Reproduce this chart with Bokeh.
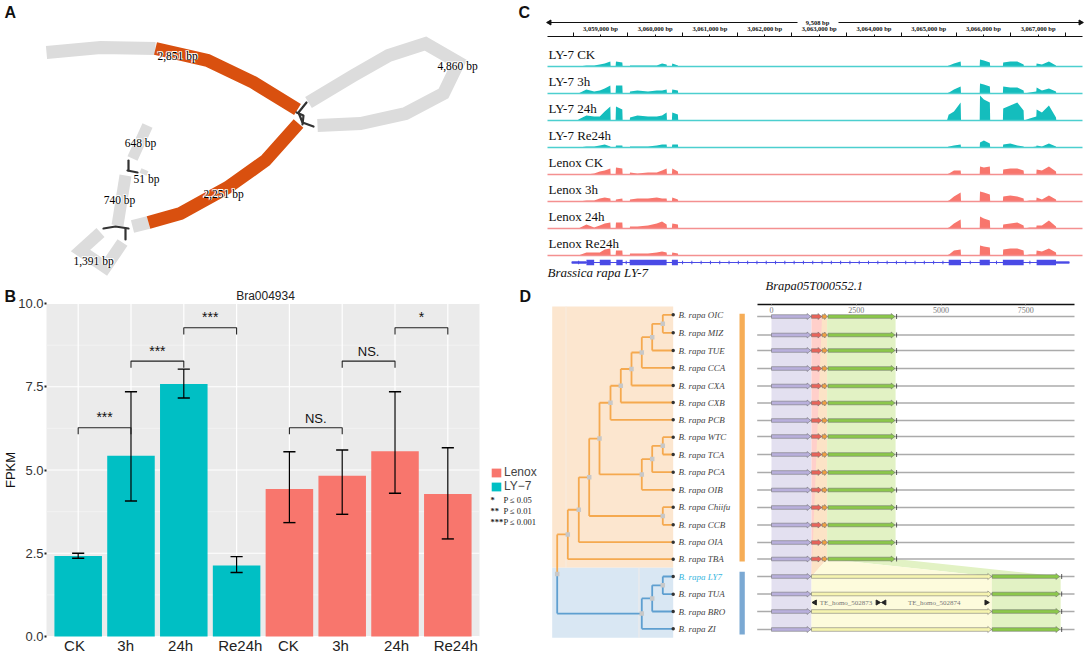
from bokeh.plotting import figure
from bokeh.layouts import row, column
from bokeh.embed import file_html
from bokeh.resources import INLINE
from bokeh.core.properties import value
from bokeh.models import (Range1d, LinearAxis, FixedTicker, Legend, LegendItem, Label)

SERIF = value("Liberation Serif")
SANS = "Liberation Sans"

# ---------- Panel A: assembly graph ----------
graph_gray = [
    ([46, 100, 155], [52, 47, 48], 13),
    ([308, 353, 388, 425, 458, 443, 405, 360, 317], [102, 75, 55, 43, 62, 93, 113, 123, 125], 13),
    ([148, 132], [222, 226], 13),
    ([125, 117], [175, 225], 12),
    ([147, 132], [125, 158], 11),
    ([140, 147], [170, 173], 5),
    ([100, 80, 105, 122], [232, 250, 267, 242], 12),
]
graph_orange = [
    ([155, 207, 253, 297], [48, 60, 82, 109], 13),
    ([298, 265, 227, 180, 148], [123, 160, 187, 213, 222], 13),
]
graph_links = [
    ([306, 298, 302, 313], [102, 112, 122, 126]),
    ([296, 303, 302], [112, 115, 124]),
    ([128, 128], [160, 170]),
    ([127, 137], [170, 172]),
    ([103, 115, 128], [228, 226, 228]),
    ([125, 125], [228, 239]),
]
graph_labels = ["2,851 bp", "4,860 bp", "2,251 bp", "648 bp", "51 bp", "740 bp", "1,391 bp"]
graph_label_x = [177, 457, 223, 140, 146, 119, 93]
graph_label_y = [55, 65, 193, 142, 178, 199, 260]

# ---------- Panel B: FPKM bars ----------
bar_pos = [1, 2, 3, 4, 5, 6, 7, 8]
bar_names = ["CK", "3h", "24h", "Re24h", "CK", "3h", "24h", "Re24h"]
ly7_fpkm = [2.42, 5.43, 7.58, 2.13]
ly7_low = [2.35, 4.07, 7.16, 1.92]
ly7_high = [2.50, 7.35, 8.03, 2.40]
lenox_fpkm = [4.43, 4.83, 5.56, 4.28]
lenox_low = [3.42, 3.67, 4.30, 2.93]
lenox_high = [5.55, 5.60, 7.35, 5.67]
name_ticks = [0.93, 1.90, 2.94, 4.07, 4.98, 5.97, 7.03, 8.15]
y_major = [0, 2.5, 5, 7.5, 10]
y_minor = [1.25, 3.75, 6.25, 8.75]
bracket_from = [1, 2, 3, 5, 6, 7]
bracket_to = [2, 3, 4, 6, 7, 8]
bracket_top = [6.27, 8.27, 9.27, 6.27, 8.27, 9.27]
bracket_text = ["***", "***", "***", "NS.", "NS.", "*"]
p_stars = ["*", "**", "***"]
p_notes = ["P ≤ 0.05", "P ≤ 0.01", "P ≤ 0.001"]

# ---------- Panel C: coverage tracks ----------
track_names = ["LY-7 CK", "LY-7 3h", "LY-7 24h", "LY-7 Re24h", "Lenox CK", "Lenox 3h", "Lenox 24h", "Lenox Re24h"]
track_base = [66, 93, 120, 147, 174, 201, 228, 255]
cov_pos = [3058595, 3058743, 3058884, 3058987, 3059077, 3059180, 3059186,
           3059276, 3059283, 3059399, 3059405,
           3059534, 3059540, 3059675, 3059868, 3060029, 3060125, 3060209, 3060215,
           3060305, 3060312, 3060415, 3060421,
           3065334, 3065366, 3065372, 3065462, 3065584, 3065591,
           3065932, 3065938, 3066009, 3066118, 3066124,
           3066356, 3066362, 3066491, 3066620, 3066735, 3066742,
           3066845, 3066967, 3066973, 3067070, 3067198, 3067327, 3067333]
cov_ly7_ck = [0,1,1,2,3,5,0, 0,5,4,0, 0,1,1,1,1,3,2,0, 0,3,1,0, 0,1,1,3,5,0, 0,7,6,4,0, 0,4,5,5,2,0, 0,0,3,2,5,1,0]
cov_ly7_3h = [0,4,2,3,5,8,0, 0,8,8,0, 0,2,3,2,3,3,4,0, 0,4,3,0, 0,1,1,4,7,0, 0,10,9,7,0, 0,7,6,6,3,0, 1,2,6,3,5,2,0]
cov_ly7_24 = [1,5,4,4,9,14,0, 0,14,11,0, 0,3,5,4,4,5,8,0, 0,8,6,0, 0,6,6,9,18,0, 0,25,21,18,0, 0,12,15,18,10,0, 2,4,11,8,15,3,0]
cov_ly7_re = [0,1,1,2,3,1,0, 0,2,2,0, 0,1,1,1,2,3,3,0, 0,3,3,0, 0,1,1,2,3,0, 0,5,7,4,0, 0,3,4,2,1,0, 0,1,2,1,4,1,0]
cov_len_ck = [0,0,1,3,4,6,0, 0,7,6,0, 0,2,1,2,2,4,6,0, 0,6,3,0, 0,1,1,4,4,0, 0,8,7,8,0, 0,5,6,6,4,0, 0,0,5,4,8,3,0]
cov_len_3h = [0,1,1,3,4,3,0, 0,2,3,0, 0,2,3,3,4,3,3,0, 0,4,2,0, 0,1,1,5,9,0, 0,10,9,7,0, 0,5,6,5,3,0, 1,1,4,2,6,2,0]
cov_len_24 = [0,4,1,3,5,6,0, 0,6,6,0, 0,2,2,3,5,7,4,0, 0,5,4,0, 0,1,1,5,9,0, 0,12,10,8,0, 0,4,5,6,3,0, 1,1,3,3,8,2,0]
cov_len_re = [0,3,3,3,6,7,0, 0,5,5,0, 0,2,2,2,3,4,3,0, 0,3,2,0, 0,1,1,5,6,0, 0,10,9,8,0, 0,6,7,7,5,0, 1,1,5,4,7,3,0]
tracks = [cov_ly7_ck, cov_ly7_3h, cov_ly7_24, cov_ly7_re, cov_len_ck, cov_len_3h, cov_len_24, cov_len_re]
ruler_ticks = [3059000 + 1000 * i for i in range(9)]
ruler_minor = [3058500 + 1000 * i for i in range(10)]
exon_start = [3058743, 3058987, 3059289, 3059534, 3060305, 3065366, 3065932, 3066356, 3066973]
exon_end = [3058884, 3059186, 3059405, 3060209, 3060415, 3065591, 3066118, 3066736, 3067327]
intron_marks = [3058600, 3059470, 3060500, 3060670, 3060840, 3061010, 3061180, 3061350, 3061520, 3061690, 3061860,
                3062030, 3062200, 3062370, 3062540, 3062710, 3062880, 3063050, 3063220, 3063390, 3063560, 3063730,
                3063900, 3064070, 3064240, 3064410, 3064580, 3064750, 3064920, 3065090, 3065260, 3065760, 3066240, 3066850]

# ---------- Panel D: phylogeny and gene structure ----------
taxa = ["OIC", "MIZ", "TUE", "CCA", "CXA", "CXB", "PCB", "WTC", "TCA", "PCA", "OIB", "Chiifu", "CCB", "OIA", "TBA",
        "LY7", "TUA", "BRO", "ZI"]
taxon_y = [314.3, 332.3, 350, 367.3, 385, 402, 419.3, 436.7, 454, 471.7, 489.3, 506.7, 524.3, 541.7, 558.7,
           576, 593.7, 611, 628.3]
gene_y = [316, 334.5, 350, 368, 385.5, 402.5, 420, 436, 454, 472, 489.5, 507, 524.5, 542, 558.5, 576, 593.5, 611, 629]
level_x = [556.7, 567.3, 578.3, 588.7, 599, 610, 620.3, 631, 641.3, 651.7, 662.3, 672.7]
clade_top = (1, [(2, [(3, [(4, [
    (5, [(6, [(7, [(8, [(9, [(10, ["OIC", "MIZ"]), "TUE"]), "CCA"]), "CXA"]), "CXB"]), "PCB"]),
    (8, [(9, [(10, ["WTC", "TCA"]), "PCA"]), "OIB"])]),
    (10, ["Chiifu", "CCB"])]), "OIA"]), "TBA"])
clade_low = (8, [(9, [(10, ["LY7", "TUA"]), "BRO"]), "ZI"])
scale_ticks = [0, 2500, 5000, 7500]
purple_gene = (0, 1160)
red_gene = (1180, 1480)
orange_gene = (1495, 1640)
green_gene = (1670, 3640)
yellow_gene = (1180, 6490)
green_gene2 = (6510, 8500)
te_names = ["TE_homo_502873", "TE_homo_502874"]
te_bp = [2200, 4800]
te_left = [1280, 3330]
te_right = [3130, 6340]

# =====================================================================
TEAL, SALMON = "#00BFC4", "#F8766D"
LEFT_W = 540
RIGHT_W = 1084 - LEFT_W


def base_fig(w, h, xr, yr, **kw):
    p = figure(width=w, height=h, x_range=xr, y_range=yr, output_backend="svg", toolbar_location=None,
               min_border=0, outline_line_color=None, **kw)
    p.axis.visible = False
    p.grid.visible = False
    return p


# ---- A ----
pa = base_fig(LEFT_W, 285, Range1d(0, LEFT_W), Range1d(285, 0))
for xs, ys, w in graph_gray:
    pa.line(xs, ys, line_color="#DCDCDC", line_width=w, line_join="miter", line_cap="butt")
for xs, ys, w in graph_orange:
    pa.line(xs, ys, line_color="#D9500F", line_width=w, line_join="miter", line_cap="butt")
for xs, ys in graph_links:
    pa.line(xs, ys, line_color="#333333", line_width=2.2, line_cap="round")
for dx, dy in [(-.8, -.8), (.8, -.8), (-.8, .8), (.8, .8)]:
    pa.text([x + dx for x in graph_label_x], [y + dy for y in graph_label_y], text=graph_labels, text_font=SERIF,
            text_font_size="11.5px", text_align="center", text_baseline="middle", text_color="white")
pa.text(graph_label_x, graph_label_y, text=graph_labels, text_font=SERIF, text_font_size="11.5px", text_align="center",
        text_baseline="middle", text_color="black")
for t, x, y in [("A", 4, 12), ("C", 518, 12)]:
    pa.add_layout(Label(x=x, y=y, text=t, text_font=SANS, text_font_size="16px", text_font_style="bold",
                        text_baseline="middle", text_color="#111111"))

# ---- B ----
XU = 433 / 8.2
YU = 333 / 10


def bx(px):
    return (px - 46) / XU + 0.4


def by(py):
    return (636 - py) / YU


pb = base_fig(LEFT_W, 369, Range1d(bx(0), bx(LEFT_W)), Range1d(by(654), by(285)))
pb.quad(left=[0.4], right=[8.6], bottom=[0], top=[10], fill_color="#EBEBEB", line_color=None)
pb.segment(y0=y_minor, y1=y_minor, x0=[0.4] * 4, x1=[8.6] * 4, line_color="#F4F4F4", line_width=0.8)
pb.segment(y0=y_major, y1=y_major, x0=[0.4] * 5, x1=[8.6] * 5, line_color="white", line_width=1.2)
pb.segment(x0=bar_pos, x1=bar_pos, y0=[0] * 8, y1=[10] * 8, line_color="white", line_width=1.2)
xax = LinearAxis(fixed_location=0, ticker=FixedTicker(ticks=name_ticks),
                 major_label_overrides={k: v for k, v in zip(name_ticks, bar_names)},
                 major_tick_line_color=None, minor_tick_line_color=None, axis_line_color=None,
                 major_tick_in=0, major_tick_out=0, minor_tick_in=0, minor_tick_out=0,
                 major_label_text_font=SANS, major_label_text_font_size="15px", major_label_text_color="#222222",
                 major_label_standoff=0)
pb.add_layout(xax, "below")
yax = LinearAxis(fixed_location=0.4, ticker=FixedTicker(ticks=y_major), axis_line_color=None,
                 major_tick_in=0, major_tick_out=2, major_tick_line_color="#222222", major_tick_line_width=2,
                 minor_tick_line_color=None, major_label_text_font=SANS, major_label_text_font_size="13px",
                 major_label_text_color="#333333", major_label_standoff=1,
                 axis_label="FPKM", axis_label_text_font=SANS, axis_label_text_font_size="13px",
                 axis_label_text_font_style="normal", axis_label_text_color="#111111", axis_label_standoff=-3)
yax.major_label_overrides = {0: "0.0", 2.5: "2.5", 5: "5.0", 7.5: "7.5", 10: "10.0"}
pb.add_layout(yax, "left")

r_ly = pb.vbar(x=bar_pos[:4], top=ly7_fpkm, width=0.9, fill_color=TEAL, line_color=None)
r_le = pb.vbar(x=bar_pos[4:], top=lenox_fpkm, width=0.9, fill_color=SALMON, line_color=None)
err_x = bar_pos
err_lo = ly7_low + lenox_low
err_hi = ly7_high + lenox_high
pb.segment(err_x, err_lo, err_x, err_hi, line_color="black", line_width=1.2)
pb.segment([x - .115 for x in err_x], err_lo, [x + .115 for x in err_x], err_lo, line_color="black", line_width=1.4)
pb.segment([x - .115 for x in err_x], err_hi, [x + .115 for x in err_x], err_hi, line_color="black", line_width=1.4)
for a, b, t, s in zip(bracket_from, bracket_to, bracket_top, bracket_text):
    pb.line([a, a, b, b], [t - .2, t, t, t - .2], line_color="#222222", line_width=1.1)
    ns = s.startswith("NS")
    pb.add_layout(Label(x=(a + b) / 2, y=t + (.07 if not ns else .05), text=s, text_align="center",
                        text_font=SANS, text_font_size="13px" if ns else "14px", text_color="#111111"))
pb.add_layout(Label(x=bx(265), y=by(295), text="Bra004934", text_align="center", text_baseline="middle", text_font=SANS,
                    text_font_size="12px", text_color="#222222"))
leg = Legend(items=[LegendItem(label="Lenox", renderers=[r_le]), LegendItem(label="LY\u22127", renderers=[r_ly])],
             location=(490, 161), margin=0, padding=0, spacing=0, border_line_color=None, background_fill_alpha=0,
             glyph_width=12, glyph_height=11, label_height=11, label_text_font=SANS, label_text_font_size="12px",
             label_standoff=2)
pb.add_layout(leg, "center")
for i, (st, s) in enumerate(zip(p_stars, p_notes)):
    pb.add_layout(Label(x=bx(490), y=by(499 + 11 * i), text=st, text_font="Liberation Serif", text_font_size="8.5px",
                        text_font_style="bold", text_baseline="middle", text_color="#222222"))
    pb.add_layout(Label(x=bx(503), y=by(499 + 11 * i), text=s, text_font="Liberation Serif", text_font_size="8.5px",
                        text_baseline="middle", text_color="#222222"))
for t, x in [("B", 4), ("D", 519)]:
    pb.add_layout(Label(x=bx(x), y=by(296), text=t, text_font=SANS, text_font_size="16px", text_font_style="bold",
                        text_baseline="middle", text_color="#111111"))

# ---- C ----
PX = 0.0547


def gx(px):
    return 3059000 + (px - 600) / PX


pc = base_fig(RIGHT_W, 292, Range1d(gx(LEFT_W), gx(1084)), Range1d(292, 0))
ruler = LinearAxis(fixed_location=36, bounds=(gx(547), gx(1082)),
                   ticker=FixedTicker(ticks=ruler_ticks, minor_ticks=ruler_minor),
                   major_label_overrides={t: f"{t:,} bp" for t in ruler_ticks},
                   axis_line_color="#111111", axis_line_width=1.2, major_tick_line_color="#111111",
                   minor_tick_line_color="#111111", major_tick_in=0, major_tick_out=2, minor_tick_in=0,
                   minor_tick_out=4, major_label_standoff=1, major_label_text_font="Liberation Serif",
                   major_label_text_font_size="6.5px", major_label_text_font_style="bold",
                   major_label_text_color="#111111")
pc.add_layout(ruler, "above")
pc.segment([gx(547), gx(838)], [22, 22], [gx(797), gx(1082)], [22, 22], line_color="#111111", line_width=1.2)
pc.scatter([gx(549)], [22], marker="triangle", angle=1.5708, size=5, color="#111111")
pc.scatter([gx(1080)], [22], marker="triangle", angle=-1.5708, size=5, color="#111111")
pc.text([gx(817)], [21.5], text=["9,508 bp"], text_font=SERIF, text_font_size="6.5px", text_font_style="bold",
        text_align="center", text_baseline="middle", text_color="#111111")
for i, (name, base, cov) in enumerate(zip(track_names, track_base, tracks)):
    fill, edge = ("#14BDBD", "#4CCFCF") if i < 4 else ("#F8766D", "#F49090")
    pc.varea(x=cov_pos, y1=[base] * len(cov), y2=[base - c for c in cov], fill_color=fill)
    pc.segment([gx(547)], [base], [gx(1082)], [base], line_color=edge, line_width=1.6)
    pc.text([gx(548)], [base - 12.5], text=[name], text_font=SERIF, text_font_size="13px", text_baseline="middle",
            text_color="#111111")
BLUE = "#4A4AE6"
pc.segment([3058473], [262], [3067572], [262], line_color=BLUE, line_width=1.2)
pc.segment([3058473, 3067327], [262, 262], [3058743, 3067572], [262, 262], line_color=BLUE, line_width=2.4)
pc.segment(exon_start, [262] * 9, exon_end, [262] * 9, line_color=BLUE, line_width=5.5)
pc.scatter(intron_marks, [262] * len(intron_marks), marker="dash", angle=1.5708, size=3.5, line_color=BLUE)
pc.text([gx(547)], [271.5], text=["Brassica rapa LY-7"], text_font=SERIF, text_font_size="13px",
        text_font_style="italic", text_baseline="middle", text_color="#111111")
pc.text([gx(765)], [285], text=["Brapa05T000552.1"], text_font=SERIF, text_font_size="12.5px",
        text_font_style="italic", text_baseline="middle", text_color="#111111")

# ---- D ----
BP = 0.0339


def bp_of(px):
    return (px - 771) / BP


pd_ = base_fig(RIGHT_W, 362, Range1d(LEFT_W, 1084), Range1d(654, 292))
pd_.extra_x_ranges = {"bp": Range1d(bp_of(LEFT_W), bp_of(1084))}
ORANGE_T, BLUE_T = "#F5A94F", "#5E9FD0"
pd_.quad(left=[551.7], right=[672.7], top=[306], bottom=[567.3], fill_color="#FCE6CF", line_color=None)
pd_.quad(left=[551.7], right=[672.7], top=[567.3], bottom=[637.3], fill_color="#D9E7F3", line_color=None)
pd_.segment([565.5, 638.5], [306, 567.3], [565.5, 638.5], [567.3, 637.3], line_color="#F6EEE6", line_width=0.8)
y_of = dict(zip(taxa, taxon_y))
node_pts = []


def draw(node, color):
    if isinstance(node, str):
        return level_x[11], y_of[node]
    lvl, kids = node
    x = level_x[lvl]
    pts = [draw(k, color) for k in kids]
    ys = [q[1] for q in pts]
    pd_.segment([x], [min(ys)], [x], [max(ys)], line_color=color, line_width=1.8)
    for q in pts:
        pd_.segment([x], [q[1]], [q[0]], [q[1]], line_color=color, line_width=1.8)
    y = (min(ys) + max(ys)) / 2
    node_pts.append((x, y))
    return x, y


top_pt = draw(clade_top, ORANGE_T)
low_pt = draw(clade_low, BLUE_T)
root_y = (top_pt[1] + low_pt[1]) / 2
rx = level_x[0]
pd_.segment([rx, rx], [top_pt[1], top_pt[1]], [rx, top_pt[0]], [root_y, top_pt[1]], line_color=ORANGE_T, line_width=1.8)
pd_.segment([rx, rx], [root_y, low_pt[1]], [rx, low_pt[0]], [low_pt[1], low_pt[1]], line_color=BLUE_T, line_width=1.8)
node_pts.append((rx, root_y))
pd_.scatter([q[0] for q in node_pts], [q[1] for q in node_pts], marker="square", size=4.5, fill_color="#C8C8C8",
            line_color=None)
pd_.scatter([level_x[11]] * len(taxa), taxon_y, size=3.5, fill_color="#333333", line_color=None)
pd_.text([678] * len(taxa), taxon_y, text=["B. rapa " + t for t in taxa], text_font=SERIF, text_font_size="9px",
         text_font_style="italic", text_baseline="middle",
         text_color=["#35B5DE" if t == "LY7" else "#444444" for t in taxa])
pd_.quad(left=[739, 739], right=[744.3, 744.3], top=[313.3, 571.3], bottom=[561, 634],
         fill_color=["#F6AD57", "#7BA9D3"], line_color=None)

ln = 15  # first row of the second clade
yt, ym, yl, yb = gene_y[0], gene_y[ln - 1], gene_y[ln], gene_y[-1]
R = "bp"
pd_.quad(left=[purple_gene[0]], right=[yellow_gene[0]], top=[yt], bottom=[yb], fill_color="#E3E0F0", line_color=None,
         x_range_name=R)
pd_.patches([[1180, 1490, 1490, 1180], [1490, 1640, 1640, 1180]], [[yt, yt, ym, yl], [yt, yt, ym, yl]],
            fill_color=["#FFCFCA", "#FCE3C6"], line_color=None, x_range_name=R)
pd_.patches([[1640, 3660, 3660, 8530, 6500, 1640]], [[yt, yt, ym, yl, yl, ym]], fill_color="#E2F2C4", line_color=None,
            x_range_name=R)
pd_.patches([[1180, 1640, 6500]], [[yl, ym, yl]], fill_color="#FDFBDC", line_color=None, x_range_name=R)
pd_.quad(left=[1180, 6500], right=[6500, 8530], top=[yl, yl], bottom=[yb, yb], fill_color=["#FDFBDC", "#E2F2C4"],
         line_color=None, x_range_name=R)
pd_.segment([bp_of(756.7)] * 19, gene_y, [bp_of(1074)] * 19, gene_y, line_color="#ABABAB", line_width=1.5,
            x_range_name=R)


def arrow(span, y):
    s, e = span
    h = min(110, (e - s) * 0.5)
    return [s, e - h, e - h, e, e - h, e - h, s], [y - 1.8, y - 1.8, y - 3, y, y + 3, y + 1.8, y + 1.8]


def gene_row(spans, colors):
    gx_, gy_, gc = [], [], []
    for y in spans[0]:
        for span, c in zip(spans[1], colors):
            a, b = arrow(span, y)
            gx_.append(a)
            gy_.append(b)
            gc.append(c)
    pd_.patches(gx_, gy_, fill_color=gc, line_color="#666666", line_width=0.5, x_range_name=R)


gene_row((gene_y[:ln], [purple_gene, red_gene, orange_gene, green_gene]), ["#B9B0DC", "#E8645A", "#F2A040", "#8CC84B"])
gene_row((gene_y[ln:], [purple_gene, yellow_gene, green_gene2]), ["#B9B0DC", "#F6F4B0", "#8CC84B"])
pd_.segment([3690] * ln, [y - 2.5 for y in gene_y[:ln]], [3690] * ln, [y + 2.5 for y in gene_y[:ln]],
            line_color="#333333", line_width=0.8, x_range_name=R)
pd_.segment([8560] * 4, [y - 2.5 for y in gene_y[ln:]], [8560] * 4, [y + 2.5 for y in gene_y[ln:]],
            line_color="#333333", line_width=0.8, x_range_name=R)
pd_.text(te_bp, [602, 602], text=te_names, text_font=SERIF, text_font_size="7px", text_align="center",
         text_baseline="middle", text_color="#777777", x_range_name=R)
pd_.scatter(te_left, [602, 602], marker="triangle", angle=1.5708, size=5, color="#222222", x_range_name=R)
pd_.scatter(te_right, [602, 602], marker="triangle", angle=-1.5708, size=5, color="#222222", x_range_name=R)
scale = LinearAxis(x_range_name=R, fixed_location=304, bounds=(bp_of(756.7), bp_of(1074)),
                   ticker=FixedTicker(ticks=scale_ticks), axis_line_color="#111111", axis_line_width=1.3,
                   major_tick_line_color="#999999", major_tick_in=0, major_tick_out=1, minor_tick_line_color=None,
                   major_label_standoff=1, major_label_text_font="Liberation Serif", major_label_text_font_size="8px",
                   major_label_text_color="#777777")
pd_.add_layout(scale, "below")

layout = row(column(pa, pb), column(pc, pd_), styles={"position": "absolute", "left": "0px", "top": "0px"})
open("out.html", "w").write(file_html(layout, INLINE))
